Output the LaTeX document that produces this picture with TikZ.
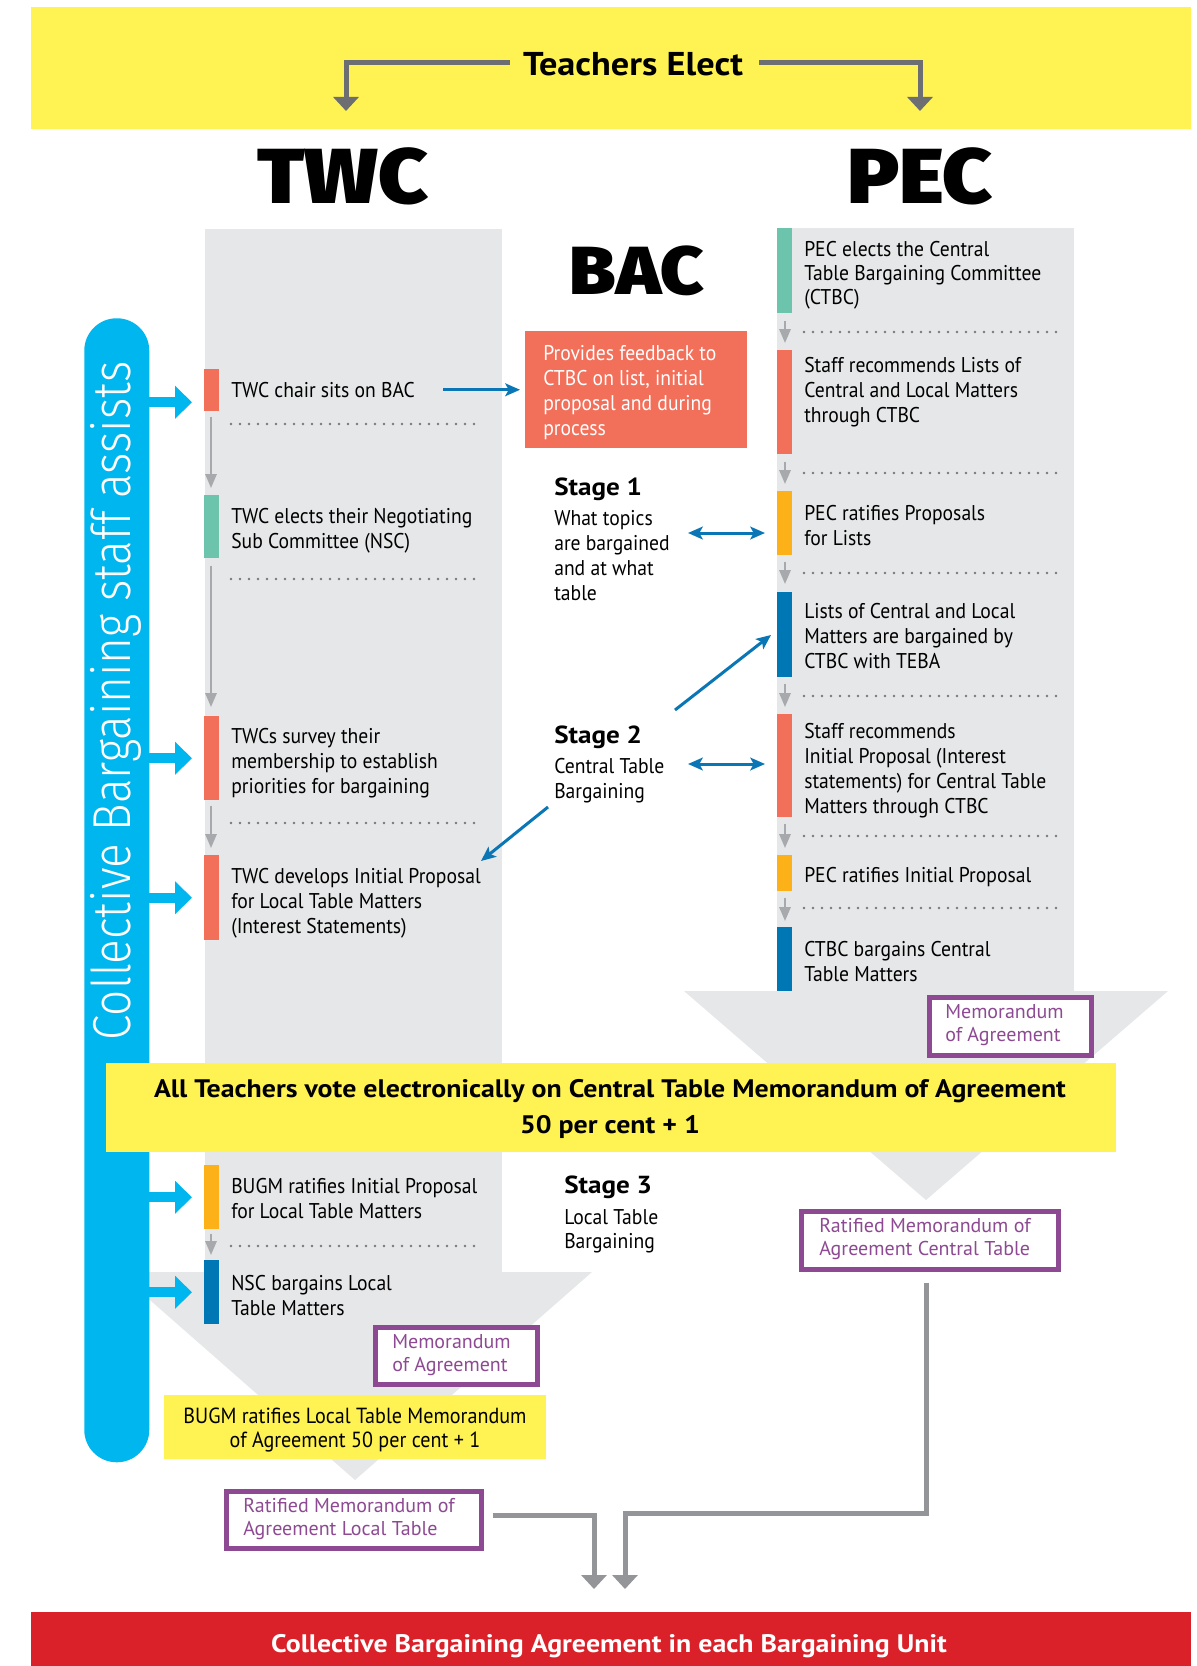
\documentclass[tikz,border=0pt]{standalone}
\usepackage{fontspec}
\setmainfont{PT Sans}[FakeStretch=0.92]
\newfontfamily\bodyfont{PT Sans}[FakeStretch=0.92]
\newfontfamily\boldfont{PT Sans}[UprightFont={* Bold}, FakeStretch=1.1]
\newfontfamily\purpfont{PT Sans}
\newfontfamily\heavyfont{Fira Sans Black}[FakeStretch=1.1]
\newfontfamily\lightfont{Fira Sans Light}[FakeStretch=0.86]
\usetikzlibrary{arrows.meta,calc}
\definecolor{ylw}{HTML}{FFF253}
\definecolor{colgray}{HTML}{E6E7E8}
\definecolor{salmon}{HTML}{F26F5A}
\definecolor{mint}{HTML}{6CC4AC}
\definecolor{amber}{HTML}{FBB117}
\definecolor{deepblue}{HTML}{0077B5}
\definecolor{cyanpill}{HTML}{00B6EE}
\definecolor{linkblue}{HTML}{0A76B6}
\definecolor{purp}{HTML}{8D4A92}
\definecolor{redband}{HTML}{DA2129}
\definecolor{darkgray}{HTML}{6D6E71}
\definecolor{midgray}{HTML}{939598}
\definecolor{lightarrow}{HTML}{A7A9AC}
\definecolor{dotgray}{HTML}{77787B}
\newcommand\ml[1]{\begin{tabular}[t]{@{}l@{}}#1\end{tabular}}
\newcommand\mc[1]{\begin{tabular}[t]{@{}c@{}}#1\end{tabular}}
\tikzset{
  bodytxt/.style={font=\bodyfont\fontsize{16}{18.75}\selectfont, inner sep=0pt, anchor=base west},
  purptxt/.style={font=\purpfont\fontsize{15}{17.25}\selectfont, text=purp, inner sep=0pt, anchor=base west},
  stagehd/.style={font=\boldfont\fontsize{18.5}{20}\selectfont, inner sep=0pt, anchor=base west},
  barnode/.style={inner sep=0pt, minimum width=11.25pt, anchor=north west, draw=none},
  purpbox/.style={draw=purp, line width=3.75pt, fill=white, inner sep=0pt, anchor=north west},
  smallarrow/.style={draw=lightarrow, line width=1.6pt, -{Triangle[width=8.5pt,length=10.5pt]}},
  dotline/.style={draw=dotgray, line width=2.1pt, line cap=round, dash pattern=on 0pt off 6.75pt},
  cyanarrow/.style={draw=cyanpill, line width=7.5pt, -{Triangle[width=24pt,length=12.75pt]}},
  bluearrow/.style={draw=linkblue, line width=2.25pt, -{Stealth[width=9.5pt,length=11pt,inset=2.5pt]}},
  bluedouble/.style={draw=linkblue, line width=2.25pt, {Stealth[width=9.5pt,length=11pt,inset=2.5pt]}-{Stealth[width=9.5pt,length=11pt,inset=2.5pt]}},
  bigarrow/.style={line width=3.75pt, -{Triangle[width=18.75pt,length=10.5pt]}},
  heading/.style={font=\heavyfont\fontsize{58.5}{60}\selectfont, inner sep=0pt, anchor=base},
}
\newcommand\colbar[5]{\node[barnode, fill=#2, minimum height={(#5-#4)*0.75pt}] (#1) at (#3,#4) {};}
\newcommand\pbox[5]{\node[purpbox, minimum width={(#4-#2-5)*0.75pt}, minimum height={(#5-#3-5)*0.75pt}] (#1) at ({#2+2.5},{#3+2.5}) {};}
\begin{document}
\begin{tikzpicture}[x=0.75pt,y=-0.75pt]
\useasboundingbox (0,0) rectangle (1196,1666);
\fill[white] (0,0) rectangle (1196,1666);
% top band
\node[fill=ylw, inner sep=0pt, anchor=north west, minimum width={1160*0.75pt}, minimum height={122*0.75pt}] (topband) at (31,7) {};
\node[font=\boldfont\fontsize{24.75}{26}\selectfont, inner sep=0pt, anchor=base] (te) at (633,76) {Teachers Elect};
\coordinate (twcin) at (346,111);
\coordinate (pecin) at (920,111);
\draw[bigarrow, darkgray] (te.west) ++(-13,-2) -| (twcin);
\draw[bigarrow, darkgray] (te.east) ++(16,-2) -| (pecin);
% headings
\node[heading] (twc) at (343,204) {TWC};
\node[heading] (pec) at (920,204) {PEC};
\node[heading, font=\heavyfont\fontsize{51}{52}\selectfont] (bac) at (637,294) {BAC};
% columns
\fill[colgray] (205,229) rectangle (502,1272);
\fill[colgray] (777,228) rectangle (1074,991);
\fill[colgray] (684,991) -- (1168,991) -- (926,1200) -- cycle;
\fill[colgray] (118,1272) -- (592,1272) -- (355,1480) -- cycle;
% left column bars
\colbar{lb1}{salmon}{204}{369}{411}
\colbar{lb2}{mint}{204}{495}{558}
\colbar{lb3}{salmon}{204}{716}{800}
\colbar{lb4}{salmon}{204}{855}{940}
\colbar{lb5}{amber}{204}{1165}{1229}
\colbar{lb6}{deepblue}{204}{1260}{1324}
\node[bodytxt] (l1) at (231,397) {\ml{TWC chair sits on BAC}};
\node[bodytxt] (l2) at (231,523) {\ml{TWC elects their Negotiating\\Sub Committee (NSC)}};
\node[bodytxt] (l3) at (231,743) {\ml{TWCs survey their\\membership to establish\\priorities for bargaining}};
\node[bodytxt] (l4) at (231,883) {\ml{TWC develops Initial Proposal\\for Local Table Matters\\(Interest Statements)}};
\node[bodytxt] (l5) at (231,1193) {\ml{BUGM ratifies Initial Proposal\\for Local Table Matters}};
\node[bodytxt] (l6) at (231,1290) {\ml{NSC bargains Local\\Table Matters}};
\draw[smallarrow] ($(lb1.south west)+(7,5)$) -- ($(lb2.north west)+(7,-7)$);
\draw[smallarrow] ($(lb2.south west)+(7,7)$) -- ($(lb3.north west)+(7,-9)$);
\draw[smallarrow] ($(lb3.south west)+(7,5)$) -- ($(lb4.north west)+(7,-7)$);
\draw[smallarrow] ($(lb5.south west)+(7,4)$) -- ($(lb6.north west)+(7,-5)$);
\draw[dotline] (231,424) -- (482,424);
\draw[dotline] (231,579) -- (482,579);
\draw[dotline] (231,823) -- (482,823);
\draw[dotline] (231,1246) -- (482,1246);
% right column bars
\colbar{rb1}{mint}{777}{228}{313}
\colbar{rb2}{salmon}{777}{350}{454}
\colbar{rb3}{amber}{777}{491}{555}
\colbar{rb4}{deepblue}{777}{592}{677}
\colbar{rb5}{salmon}{777}{714}{817}
\colbar{rb6}{amber}{777}{855}{891}
\colbar{rb7}{deepblue}{777}{927}{991}
\node[bodytxt, font=\bodyfont\fontsize{16}{18}\selectfont] (r1) at (804,256) {\ml{PEC elects the Central\\Table Bargaining Committee\\(CTBC)}};
\node[bodytxt] (r2) at (804,372) {\ml{Staff recommends Lists of\\Central and Local Matters\\through CTBC}};
\node[bodytxt] (r3) at (804,520) {\ml{PEC ratifies Proposals\\for Lists}};
\node[bodytxt] (r4) at (804,618) {\ml{Lists of Central and Local\\Matters are bargained by\\CTBC with TEBA}};
\node[bodytxt] (r5) at (804,738) {\ml{Staff recommends\\Initial Proposal (Interest\\statements) for Central Table\\Matters through CTBC}};
\node[bodytxt] (r6) at (804,882) {\ml{PEC ratifies Initial Proposal}};
\node[bodytxt] (r7) at (804,956) {\ml{CTBC bargains Central\\Table Matters}};
\draw[smallarrow] ($(rb1.south west)+(8,7)$) -- ($(rb2.north west)+(8,-7)$);
\draw[smallarrow] ($(rb2.south west)+(8,7)$) -- ($(rb3.north west)+(8,-7)$);
\draw[smallarrow] ($(rb3.south west)+(8,6)$) -- ($(rb4.north west)+(8,-8)$);
\draw[smallarrow] ($(rb4.south west)+(8,6)$) -- ($(rb5.north west)+(8,-7)$);
\draw[smallarrow] ($(rb5.south west)+(8,6)$) -- ($(rb6.north west)+(8,-7)$);
\draw[smallarrow] ($(rb6.south west)+(8,6)$) -- ($(rb7.north west)+(8,-6)$);
\draw[dotline] (804,332) -- (1058,332);
\draw[dotline] (804,473) -- (1058,473);
\draw[dotline] (804,573) -- (1058,573);
\draw[dotline] (804,696) -- (1058,696);
\draw[dotline] (804,836) -- (1058,836);
\draw[dotline] (804,908) -- (1058,908);
% pill
\node[fill=cyanpill, rounded corners=24.3pt, inner sep=0pt, anchor=north west, minimum width={65*0.75pt}, minimum height={1144*0.75pt}] (pill) at (84,318) {};
\node[rotate=90, anchor=base, text=white, inner sep=0pt, font=\lightfont\fontsize{40}{40}\selectfont] (pilltxt) at (130,701) {Collective Bargaining staff assists};
\draw[cyanarrow] ([xshift=-2pt,yshift=-9pt]pill.east |- lb1.west) -- ([xshift=-9pt,yshift=-9pt]lb1.west);
\draw[cyanarrow] ([xshift=-2pt]pill.east |- lb3.west) -- ([xshift=-9pt]lb3.west);
\draw[cyanarrow] ([xshift=-2pt]pill.east |- lb4.west) -- ([xshift=-9pt]lb4.west);
\draw[cyanarrow] ([xshift=-2pt]pill.east |- lb5.west) -- ([xshift=-9pt]lb5.west);
\draw[cyanarrow] ([xshift=-2pt]pill.east |- lb6.west) -- ([xshift=-9pt]lb6.west);
% middle
\node[fill=salmon, inner sep=0pt, anchor=north west, minimum width={222*0.75pt}, minimum height={117*0.75pt}] (feedback) at (525,331) {};
\node[bodytxt, text=white] (feedtxt) at (543,360) {\ml{Provides feedback to\\CTBC on list, initial\\proposal and during\\process}};
\draw[bluearrow] ([xshift=-61.5pt]feedback.west) -- ([xshift=-3.75pt]feedback.west);
\node[stagehd] (s1) at (554,495) {Stage 1};
\node[bodytxt] (s1t) at (554,525) {\ml{What topics\\are bargained\\and at what\\table}};
\node[stagehd] (s2) at (554,743) {Stage 2};
\node[bodytxt] (s2t) at (554,773) {\ml{Central Table\\Bargaining}};
\node[stagehd] (s3) at (564,1193) {Stage 3};
\node[bodytxt, font=\bodyfont\fontsize{16}{18}\selectfont] (s3t) at (564,1224) {\ml{Local Table\\Bargaining}};
\coordinate (d1a) at (688,533); \coordinate (d1b) at (765,533);
\coordinate (d2a) at (688,764); \coordinate (d2b) at (765,764);
\draw[bluedouble] (d1a) -- (d1b);
\draw[bluedouble] (d2a) -- (d2b);
\coordinate (g1a) at (675,710); \coordinate (g1b) at (771,635);
\coordinate (g2a) at (548,807); \coordinate (g2b) at (481,861);
\draw[bluearrow] (g1a) -- (g1b);
\draw[bluearrow] (g2a) -- (g2b);
% memo boxes
\pbox{memoR}{924}{992}{1091}{1055}
\node[purptxt] (memoRt) at (945,1018) {\ml{Memorandum\\of Agreement}};
\pbox{memoL}{370}{1322}{537}{1384}
\node[purptxt] (memoLt) at (392,1348) {\ml{Memorandum\\of Agreement}};
% vote band
\node[fill=ylw, inner sep=0pt, anchor=north west, minimum width={1010*0.75pt}, minimum height={89*0.75pt}] (vote) at (106,1063) {};
\node[font=\boldfont\fontsize{19}{27}\selectfont, inner sep=0pt, anchor=base] (votet) at (610,1097) {\mc{All Teachers vote electronically on Central Table Memorandum of Agreement\\50 per cent + 1}};
% BUGM local yellow
\node[fill=ylw, inner sep=0pt, anchor=north west, minimum width={382*0.75pt}, minimum height={64*0.75pt}] (bugm) at (164,1395) {};
\node[bodytxt, font=\bodyfont\fontsize{16.4}{18}\selectfont, anchor=base] (bugmt) at (355,1423) {\mc{BUGM ratifies Local Table Memorandum\\of Agreement 50 per cent + 1}};
% ratified boxes
\pbox{ratC}{796}{1206}{1058}{1269}
\node[purptxt] (ratCt) at (819,1232) {\ml{Ratified Memorandum of\\Agreement Central Table}};
\pbox{ratL}{221}{1486}{481}{1548}
\node[purptxt] (ratLt) at (243,1512) {\ml{Ratified Memorandum of\\Agreement Local Table}};
% bottom connectors
\coordinate (arrL) at (594,1589);
\coordinate (arrR) at (625,1589);
\coordinate (jR) at (625,1513);
\draw[bigarrow, midgray] (ratL.east) ++(9,-4) -| (arrL);
\draw[bigarrow, midgray] (ratC.south) ++(-3,11) |- (jR) -- (arrR);
% red band
\node[fill=redband, inner sep=0pt, anchor=north west, minimum width={1160*0.75pt}, minimum height={54*0.75pt}] (redb) at (31,1612) {};
\node[font=\boldfont\fontsize{19}{20}\selectfont, text=white, inner sep=0pt, anchor=base] (redt) at (609,1652) {Collective Bargaining Agreement in each Bargaining Unit};
\end{tikzpicture}
\end{document}
